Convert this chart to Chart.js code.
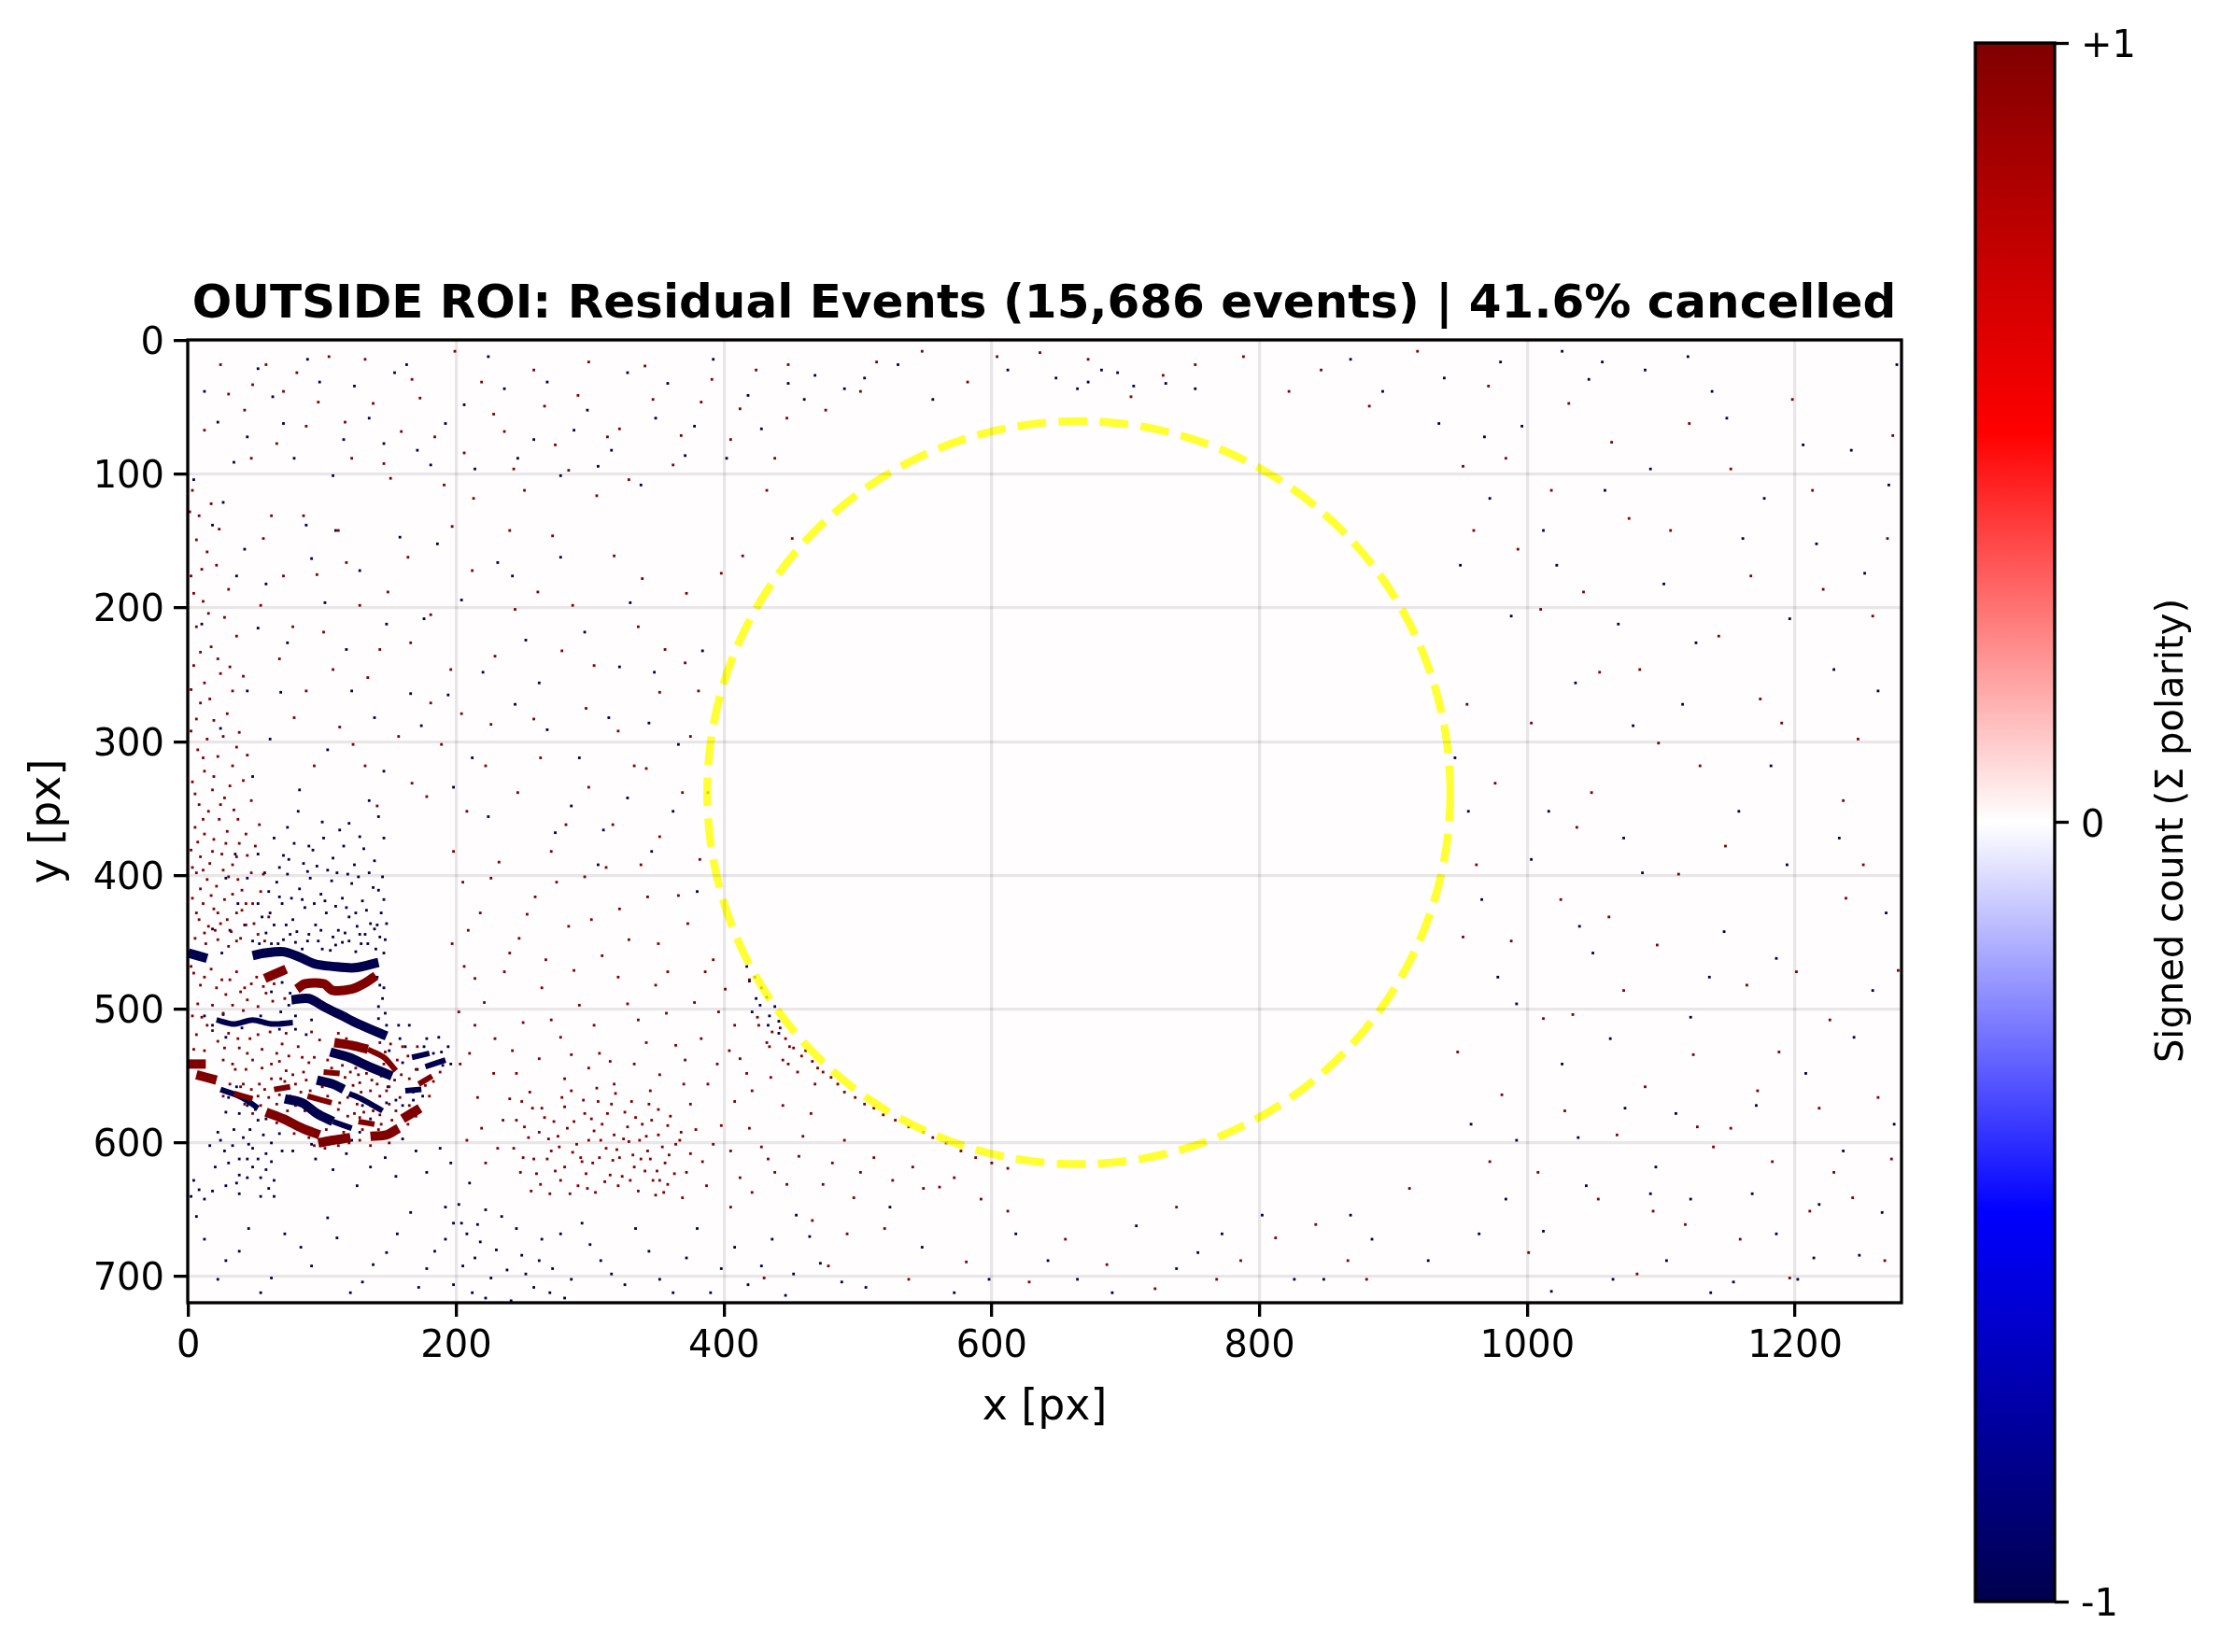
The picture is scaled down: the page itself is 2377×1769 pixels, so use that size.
<!DOCTYPE html>
<html lang="en">
<head>
<meta charset="UTF-8">
<title>OUTSIDE ROI residual events</title>
<style>
    body { margin: 0; background: #fff; }
    canvas { position: absolute; top: 0; }
    #main { left: 0; }
    #cbar { left: 2100px; }
</style>
</head>
<body>
<canvas id="main" width="2236" height="1769"></canvas>
<canvas id="cbar" width="277" height="1769"></canvas>
<script src="https://cdn.jsdelivr.net/npm/chart.js"></script>
<script>
const titleText = 'OUTSIDE ROI: Residual Events (15,686 events) | 41.6% cancelled';
const xTickValues = [0, 200, 400, 600, 800, 1000, 1200];
const yTickValues = [0, 100, 200, 300, 400, 500, 600, 700];
const cbarTickValues = [-1, 0, 1];
const cbarTickLabels = ['-1', '0', '+1'];
const cmapStops = [[0, '#00004d'], [0.25, '#0000ff'], [0.5, '#ffffff'], [0.75, '#ff0000'], [1, '#800000']];

// ROI circle, in image pixels
const roiCenter = { x: 665, y: 338 };
const roiRadius = 277.5;

// event bands, polylines of x,y
const blueBandsThick = [
    [[0,458],[14,462]],
    [[48,460],[57,458],[71,457],[83,461],[94,466],[108,468],[124,469],[142,465]],
    [[77,493],[90,492],[101,498],[115,505],[127,511],[148,520]],
    [[106,532],[120,536],[133,542],[152,550]],
    [[96,553],[108,556],[116,560]],
    [[72,567],[85,570],[96,578],[108,584]]
];
const blueBandsThin = [
    [[21,508],[34,511],[48,508],[62,511],[78,510]],
    [[120,563],[131,568],[145,576]],
    [[108,584],[122,589]],
    [[167,536],[180,533]],
    [[177,543],[192,538]],
    [[162,561],[174,560]],
    [[24,560],[40,566],[52,574]]
];
const redBandsThick = [
    [[0,541],[13,541]],
    [[6,549],[21,553]],
    [[57,477],[64,474],[73,470]],
    [[81,485],[87,481],[101,481],[108,486],[122,485],[131,481],[140,475]],
    [[58,577],[71,582],[85,589],[98,594]],
    [[97,600],[108,598],[121,596]],
    [[136,595],[148,594],[157,589]],
    [[160,582],[173,574]],
    [[109,525],[122,527],[134,530]]
];
const redBandsThin = [
    [[134,530],[146,536],[155,546]],
    [[101,547],[113,548]],
    [[172,556],[182,550]],
    [[34,563],[48,567]],
    [[64,560],[76,558]],
    [[89,565],[107,570]],
    [[127,584],[139,586]]
];

// single events, flat x,y lists
const redLeftEdge = [3,112,8,131,14,158,2,176,11,195,21,168,6,214,17,229,27,207,4,243,12,256,24,249,33,262,9,271,19,284,2,292,29,279,14,298,38,293,7,306,22,311,33,318,12,322,3,330,18,336,27,342,41,329,8,347,15,352,23,358,34,351,47,344,5,364,12,369,19,373,29,367,38,376,53,362,2,381,9,386,16,391,25,384,33,392,44,385,6,398,14,403,21,408,30,401,40,411,56,399,3,417,11,421,19,425,27,418,36,428,48,421,8,433,15,438,24,436,32,442,43,437,60,431,5,447,13,451,22,448,30,453,39,447,52,444,4,473,9,482,17,470,25,478,28,489,36,472,42,484,51,476,33,497,44,493,58,488,64,481,72,492,3,505,6,519,14,512,22,524,30,518,38,529,46,522,55,530,61,517,70,526,4,530,26,538,35,545,48,538,62,541,75,535,82,528,69,552,53,556,41,556,90,540,78,549,
    1,128,6,149,17,122,23,141,10,171,30,186,4,189,15,204,36,221,9,233,22,238,31,244,2,261,16,268,41,251,6,283,26,296,36,304,11,312,19,326,31,333,44,310,5,339,24,347,37,358,11,358,28,376,43,369,7,375,18,382,36,386,50,378,3,394,11,396,26,396,37,403,47,398,9,410,17,415,33,414,43,421,54,412,6,428,22,428,29,433,40,426,12,443,20,441,36,449,49,436,57,449,2,468,12,476,21,484,31,478,39,487,47,481,56,483,67,474,7,496,18,497,26,503,41,501,52,498,63,494,10,506,18,516,27,529,37,522,44,533,52,519,66,533,73,518,12,531,33,541,43,545,55,544,68,539,85,536];
const redInHand = [92,517,98,523,112,518,125,544,133,548,141,556,128,555,117,551,148,561,136,572,112,575,124,578,150,571,158,566,165,552,170,545,156,538,147,532,160,528,143,525,118,522,94,536,86,547,104,538,180,565,152,583,143,579,116,592,80,572,76,565,66,571,100,558,88,553,73,546,
    99,552,107,544,115,542,121,547,127,549,137,553,144,550,123,557,129,562,136,561,143,565,150,558,154,553,119,566,113,570,126,571,131,577,138,576,104,565,96,567,91,561,84,562,80,556,72,554,62,552,57,560,47,560,39,558,31,556,26,565,42,571,52,565,60,566,68,564,87,576,74,576,66,585,79,593,90,596,103,590,112,586,130,590,128,581,119,580,144,586,146,541,151,526,164,535,171,528,159,549,168,562,177,557,188,547,183,554,165,572,155,576,170,580,164,586,152,590,128,598,136,602,142,590,150,600,94,602,102,604,112,602,120,600,62,578,54,572,48,578];
const redMiddle = [205,405,218,428,232,390,247,447,259,416,271,382,284,438,296,401,309,460,322,425,338,392,351,451,366,415,382,388,206,468,221,495,236,472,250,510,264,484,278,521,292,497,307,533,321,476,336,508,349,482,364,527,378,495,392,463,408,512,419,478,203,541,216,566,229,522,245,548,262,537,281,552,299,544,318,556,333,541,352,549,371,538,388,556,404,531,417,548,432,525,208,598,222,615,235,583,351,575,367,598,384,614,398,587,412,626,428,603,444,572,459,595,352,628,369,641,387,632,405,648,421,637,438,622,456,610,474,631,490,598,502,622,
    198,382,209,441,214,477,226,402,240,458,253,429,267,463,275,405,288,471,301,433,312,394,329,448,343,416,358,472,373,436,386,472,396,502,401,485,412,537,425,506,214,512,228,548,242,531,255,562,271,508,286,534,303,512,315,539,328,496,342,525,357,503,370,556,383,522,395,541,408,569,421,561,435,551,448,541,197,451,202,502,210,533,219,589,231,604,240,567,249,569,345,561,358,587,375,571,392,601,405,606,419,589,433,612,447,631,465,578,481,615,497,641,512,611,526,628,541,618,549,634,572,626,592,642];
const redCluster = [243,604,251,588,258,612,264,574,269,597,274,621,279,566,283,589,287,607,291,632,296,578,299,598,302,615,306,569,309,586,312,604,315,624,318,594,322,611,326,577,329,599,333,618,336,636,339,586,343,606,347,628,351,594,356,615,360,580,364,601,248,622,256,636,262,592,268,612,273,584,277,603,281,618,285,638,290,601,294,614,298,634,303,591,307,611,311,629,316,571,320,605,324,625,328,588,332,609,337,598,341,621,345,612,349,639,354,603,358,631,372,622,379,590,
    254,596,260,623,266,581,271,606,276,595,281,573,288,584,293,611,297,623,301,582,304,637,308,598,313,578,317,613,321,632,325,597,330,628,334,581,338,612,342,595,346,583,350,621,355,637,359,609,363,623,368,592,375,608,245,583,250,611,257,574,263,631,270,638,278,628,286,561,295,568,305,559,319,563,331,569,344,571];
const redUpper = [42,52,58,18,71,38,88,64,105,12,122,88,138,47,151,103,167,29,184,72,199,8,213,118,228,55,243,96,258,22,274,78,291,41,305,116,322,66,341,19,362,93,383,46,405,74,424,22,447,58,112,142,96,175,128,198,143,231,78,214,164,162,181,205,196,246,88,262,113,289,132,318,157,296,178,341,204,279,222,318,240,142,261,188,279,232,297,275,318,161,336,214,352,263,375,296,388,338,62,131,47,88,30,40,12,67,
    24,18,48,33,66,77,81,24,97,46,117,61,132,14,146,92,159,68,173,43,191,108,206,84,219,31,236,68,251,112,266,49,284,97,299,16,313,72,329,104,347,44,368,71,391,29,412,51,56,148,71,176,86,131,101,218,118,166,134,252,149,188,166,226,181,271,197,139,212,172,229,236,244,201,258,283,272,146,287,198,303,243,321,292,339,178,356,231,372,189,381,262,54,198,68,238,79,282,94,318,108,246,123,302,141,348,167,331,189,302,208,352,226,287,246,338,263,312,282,362,299,334,317,362,333,318,352,371,369,338];
const redRight = [960,142,984,88,1010,201,1031,47,1054,248,1076,133,1098,301,1121,62,1143,221,1167,176,1190,286,1213,112,1236,344,1258,206,1273,71,962,392,988,449,1012,507,1037,364,1061,431,1088,558,1113,399,1139,603,1164,482,1188,532,1211,651,1238,417,1262,566,1277,471,948,532,972,614,1001,682,1028,576,1053,642,1082,698,1118,661,1152,589,1196,701,1229,622,880,702,842,661,786,688,722,709,655,672,612,651,561,633,520,664,478,692,430,701,846,22,882,49,918,8,752,18,704,42,636,9,582,31,514,16,476,52,438,88,451,148,398,174,371,241,342,320,
    952,94,971,34,993,156,1018,112,1042,188,1063,76,1084,246,1107,142,1129,318,1152,96,1174,268,1198,44,1221,186,1247,298,1269,148,955,272,976,331,1003,286,1025,418,1048,338,1072,486,1097,452,1124,534,1148,378,1172,561,1201,472,1226,508,1251,392,1272,612,952,446,981,564,1008,622,1034,504,1067,594,1094,651,1127,588,1159,672,1183,614,1218,574,1243,641,1267,688,912,634,866,688,812,671,768,702,738,648,686,691,628,704,581,689,538,702,492,668,466,658,788,12,822,38,728,26,672,14,604,12,548,8,502,38,448,18,432,112,414,161];
const redArc = [436,517,446,522,452,529,458,535,466,539,474,547,485,556,498,566,512,574,528,583,549,592,566,600,588,611,612,619,442,514,449,528,461,531,470,544,480,551,490,562,505,571,519,579,538,588,556,596,577,606,600,615,426,512,434,528,444,538,455,547,468,556];
const blueArc = [417,468,423,476,428,484,432,491,438,498,434,505,441,509,424,492,419,479,427,497,433,512,421,502,441,518];
const blueHalo = [64,372,71,385,79,376,86,391,93,381,101,372,108,387,116,378,124,392,131,380,139,389,57,398,66,405,74,399,83,410,91,402,99,414,107,404,115,417,122,406,130,419,138,409,145,401,52,421,61,428,70,421,78,433,87,424,95,437,103,428,112,441,120,431,128,444,136,436,144,428,42,437,48,449,58,443,67,451,76,444,85,455,97,449,106,456,115,450,125,457,134,451,143,446,146,458,35,384,28,402,18,440,100,360,82,352,120,361,135,344,146,372,
    68,394,75,388,89,397,96,393,104,396,111,398,119,399,127,401,135,398,142,411,60,412,68,416,77,417,85,418,94,421,102,419,110,423,118,424,125,428,133,426,141,437,55,431,64,437,73,437,81,442,90,444,99,441,108,446,117,443,126,438,132,444,140,455,53,451,62,451,71,448,80,450,89,449,100,455,110,452,120,449,129,451,139,440,146,418,148,436,147,448,74,364,90,378,113,366,128,371,142,356,52,384,44,402,37,421,31,441,25,458];
const blueHand = [62,487,70,480,75,497,80,505,145,492,143,482,147,503,158,522,165,512,176,528,187,521,150,531,160,540,171,545,183,533,140,543,149,558,130,572,36,558,44,572,52,583,28,577,34,590,45,601,
    69,502,76,488,84,484,141,476,146,484,142,498,148,512,142,507,157,512,162,528,170,536,178,522,189,532,194,528,196,541,180,552,190,542,175,565,160,572,168,568,155,568,148,570,136,582,128,592,122,598,30,566,38,578,50,575,58,582,46,590,56,594,68,593,18,512,26,504,40,514,54,505,68,515,80,515,92,508,88,519,28,521,12,505];
const blueBelowHand = [22,592,27,606,38,612,38,624,38,638,48,604,48,618,54,626,54,640,52,612,62,600,62,614,64,628,64,640,30,615,20,618,8,635,2,640,12,642,28,632,78,606,92,601,108,620,126,632,147,611,160,597,178,622,188,604,
    24,598,33,602,41,596,44,612,44,626,58,608,58,620,36,630,60,634,70,606,16,602,4,628,18,636,95,612,118,608,136,618,155,625,170,606,196,615,210,630];
const blueLowerLeft = [12,672,28,688,45,664,62,701,84,678,104,656,121,712,138,691,156,668,172,708,184,681,198,660,205,692,212,712,218,674,226,701,234,655,241,718,249,684,258,708,202,646,216,661,264,672,272,694,281,716,294,660,308,688,326,706,344,681,362,712,380,664,398,694,418,706,436,672,454,654,472,690,
    6,655,22,702,38,681,54,712,72,668,92,692,111,671,130,704,148,682,166,652,178,694,192,672,198,706,208,668,214,686,222,716,230,680,238,695,245,664,252,698,262,688,270,712,278,668,286,702,300,676,316,698,334,664,352,702,372,686,390,712,408,678,428,692,446,714,464,670,488,704,192,648,204,660,222,650];
const blueUpper = [12,38,34,91,52,21,71,62,89,14,108,101,124,34,146,77,163,18,181,93,206,48,224,12,246,88,268,31,288,67,306,94,328,24,349,58,371,86,392,14,418,41,448,32,468,26,490,36,530,18,556,44,612,22,648,28,672,31,694,24,730,32,752,36,4,104,18,138,36,176,52,215,69,263,88,138,102,196,118,231,139,282,158,147,176,208,194,265,212,312,231,166,252,224,268,291,286,348,306,392,322,244,344,286,362,352,380,412,
    22,61,44,72,63,42,79,88,98,31,116,74,135,58,154,24,171,82,192,62,214,96,236,36,258,74,278,101,298,52,316,82,338,108,358,32,378,64,402,88,428,66,460,44,505,28,664,36,682,22,706,34,26,121,42,156,58,182,74,226,92,163,110,142,128,172,148,212,166,264,186,152,204,194,220,248,242,176,262,256,278,162,296,218,314,282,330,196,348,248,366,302,384,232,44,262,61,298,83,336,104,306,122,262,146,322,174,288,198,334,224,356,244,272,274,368,292,312,310,366,328,342,346,382,10,212,24,290,48,326];
const blueRight = [972,118,996,64,1022,168,1046,29,1068,212,1092,96,1116,272,1138,38,1161,148,1182,318,1206,78,1229,246,1252,174,1270,108,956,352,978,476,1003,388,1026,541,1049,458,1072,372,1096,618,1122,506,1147,442,1171,572,1194,392,1218,646,1244,521,1268,428,964,668,992,598,1018,711,1044,632,1073,574,1104,688,1137,712,1168,638,1202,702,1248,684,868,654,826,702,772,668,738,694,690,712,642,688,598,702,548,678,506,708,892,38,934,62,868,14,
    950,168,968,72,988,206,1012,142,1036,256,1058,112,1079,288,1102,182,1126,226,1149,58,1177,118,1196,208,1216,152,1242,82,1262,262,1276,18,946,312,966,418,992,496,1016,352,1039,438,1062,522,1086,398,1111,578,1136,476,1158,352,1186,462,1208,548,1233,372,1258,486,1274,586,958,586,984,642,1012,666,1038,596,1064,702,1092,638,1122,642,1154,704,1186,668,1214,686,1236,606,1265,652,926,688,884,672,848,702,802,654,754,682,708,662,664,702,618,668,572,712,524,648,452,698,1056,16,1088,22,1120,12,1026,8,980,16,938,28];

const toPoints = flat => {
    const pts = [];
    for (let i = 0; i < flat.length; i += 2) pts.push({ x: flat[i], y: flat[i + 1] });
    return pts;
};
const FONT = 'DejaVu Sans';
const RED = '#800000';
const BLUE = '#00004d';

const eventDataset = (flat, color) => ({
    data: toPoints(flat), showLine: false, pointStyle: 'rect',
    pointRadius: 2, pointBorderWidth: 0, pointBackgroundColor: color
});
const bandDataset = (band, color, width) => ({
    data: band.map(p => ({ x: p[0], y: p[1] })), showLine: true, pointRadius: 0,
    borderColor: color, borderWidth: width, borderCapStyle: 'butt', borderJoinStyle: 'round', tension: 0.3
});

const roiDataset = {
    data: [roiCenter], showLine: false, pointStyle: 'circle',
    pointRadius: ctx => {
        const sx = ctx.chart.scales.x;
        return sx.getPixelForValue(roiRadius) - sx.getPixelForValue(0);
    },
    pointBackgroundColor: 'transparent', pointBorderColor: 'rgba(255,255,0,0.8)', pointBorderWidth: 8.33
};

const datasets = [roiDataset];
redBandsThick.forEach(b => datasets.push(bandDataset(b, RED, 10)));
blueBandsThick.forEach(b => datasets.push(bandDataset(b, BLUE, 10)));
redBandsThin.forEach(b => datasets.push(bandDataset(b, RED, 6)));
blueBandsThin.forEach(b => datasets.push(bandDataset(b, BLUE, 6)));
[redLeftEdge, redInHand, redMiddle, redCluster, redUpper, redRight, redArc].forEach(l => datasets.push(eventDataset(l, RED)));
[blueArc, blueHalo, blueHand, blueBelowHand, blueLowerLeft, blueUpper, blueRight].forEach(l => datasets.push(eventDataset(l, BLUE)));

const frame = {
    id: 'frame',
    afterDraw(chart) {
        const a = chart.chartArea, c = chart.ctx;
        c.save();
        c.strokeStyle = '#000';
        c.lineWidth = 3.3;
        c.strokeRect(a.left, a.top, a.right - a.left, a.bottom - a.top);
        c.restore();
    }
};
const heatBackground = {
    id: 'heatBackground',
    beforeDatasetsDraw(chart) {
        const a = chart.chartArea, c = chart.ctx;
        c.save();
        c.fillStyle = '#fffdfe';
        c.fillRect(a.left, a.top, a.right - a.left, a.bottom - a.top);
        c.restore();
    }
};
const roiDash = {
    id: 'roiDash',
    beforeDatasetDraw(chart, args) {
        if (args.index === 0) { chart.ctx.save(); chart.ctx.setLineDash([30.8, 13.3]); }
    },
    afterDatasetDraw(chart, args) {
        if (args.index === 0) chart.ctx.restore();
    }
};

new Chart(document.getElementById('main'), {
    type: 'scatter',
    data: { datasets: datasets },
    plugins: [heatBackground, roiDash, frame],
    options: {
        responsive: false, animation: false, devicePixelRatio: 1, events: [],
        layout: { padding: { left: 0, right: 0, top: 0, bottom: 233 } },
        plugins: {
            legend: { display: false },
            tooltip: { enabled: false },
            title: {
                display: true, text: titleText, color: '#000',
                font: { family: FONT, size: 50, weight: 'bold' },
                padding: { top: 297, bottom: 7 }
            }
        },
        scales: {
            x: {
                type: 'linear', min: -0.5, max: 1279.5,
                afterBuildTicks: s => { s.ticks = xTickValues.map(v => ({ value: v })); },
                afterFit: s => { s.height = 141; },
                grid: { color: 'rgba(0,0,0,0.09)', lineWidth: 3.3, z: 1, tickColor: '#000', tickLength: 15, tickWidth: 3.3 },
                border: { display: false },
                ticks: { color: '#000', font: { family: FONT, size: 40 }, padding: 9, maxRotation: 0, callback: v => String(v) },
                title: { display: true, text: 'x [px]', color: '#000', font: { family: FONT, size: 45.83 }, padding: 0 }
            },
            y: {
                type: 'linear', reverse: true, min: -0.5, max: 719.5,
                afterBuildTicks: s => { s.ticks = yTickValues.map(v => ({ value: v })); },
                afterFit: s => { s.width = 201; },
                grid: { color: 'rgba(0,0,0,0.09)', lineWidth: 3.3, z: 1, tickColor: '#000', tickLength: 15, tickWidth: 3.3 },
                border: { display: false },
                ticks: { color: '#000', font: { family: FONT, size: 40 }, padding: 10, labelOffset: 4, callback: v => String(v) },
                title: { display: true, text: 'y [px]', color: '#000', font: { family: FONT, size: 45.83 }, padding: { top: 25, bottom: 0 } }
            },
            // empty axis that keeps the plot clear of the colour bar while the title stays centred on the axes
            spacer: {
                type: 'linear', position: 'right',
                afterFit: s => { s.width = 200; },
                grid: { display: false }, border: { display: false }, ticks: { display: false }
            }
        }
    }
});

const cbarLabel = {
    id: 'cbarLabel',
    afterDraw(chart) {
        const a = chart.chartArea, c = chart.ctx;
        c.save();
        c.translate(a.right + 127, (a.top + a.bottom) / 2 + 9);
        c.rotate(-Math.PI / 2);
        c.font = '40px "' + FONT + '"';
        c.fillStyle = '#000';
        c.textAlign = 'center';
        c.textBaseline = 'middle';
        c.fillText('Signed count (Σ polarity)', 0, 0);
        c.restore();
    }
};

new Chart(document.getElementById('cbar'), {
    type: 'bar',
    data: {
        labels: [''],
        datasets: [{
            data: [[-1, 1]],
            barPercentage: 1, categoryPercentage: 1, borderWidth: 0,
            backgroundColor: ctx => {
                const a = ctx.chart.chartArea;
                if (!a) return '#fff';
                const g = ctx.chart.ctx.createLinearGradient(0, a.bottom, 0, a.top);
                cmapStops.forEach(s => g.addColorStop(s[0], s[1]));
                return g;
            }
        }]
    },
    plugins: [frame, cbarLabel],
    options: {
        responsive: false, animation: false, devicePixelRatio: 1, events: [],
        layout: { padding: { left: 15, right: 0, top: 46, bottom: 54 } },
        plugins: { legend: { display: false }, tooltip: { enabled: false } },
        scales: {
            x: { display: false },
            y: {
                position: 'right', min: -1, max: 1,
                afterBuildTicks: s => { s.ticks = cbarTickValues.map(v => ({ value: v })); },
                afterFit: s => { s.width = 177; },
                grid: { drawOnChartArea: false, tickColor: '#000', tickLength: 15, tickWidth: 3.3 },
                border: { display: false },
                ticks: {
                    color: '#000', font: { family: FONT, size: 40 }, padding: 13, labelOffset: 5,
                    callback: (v, i) => cbarTickLabels[i]
                }
            }
        }
    }
});
</script>
</body>
</html>
